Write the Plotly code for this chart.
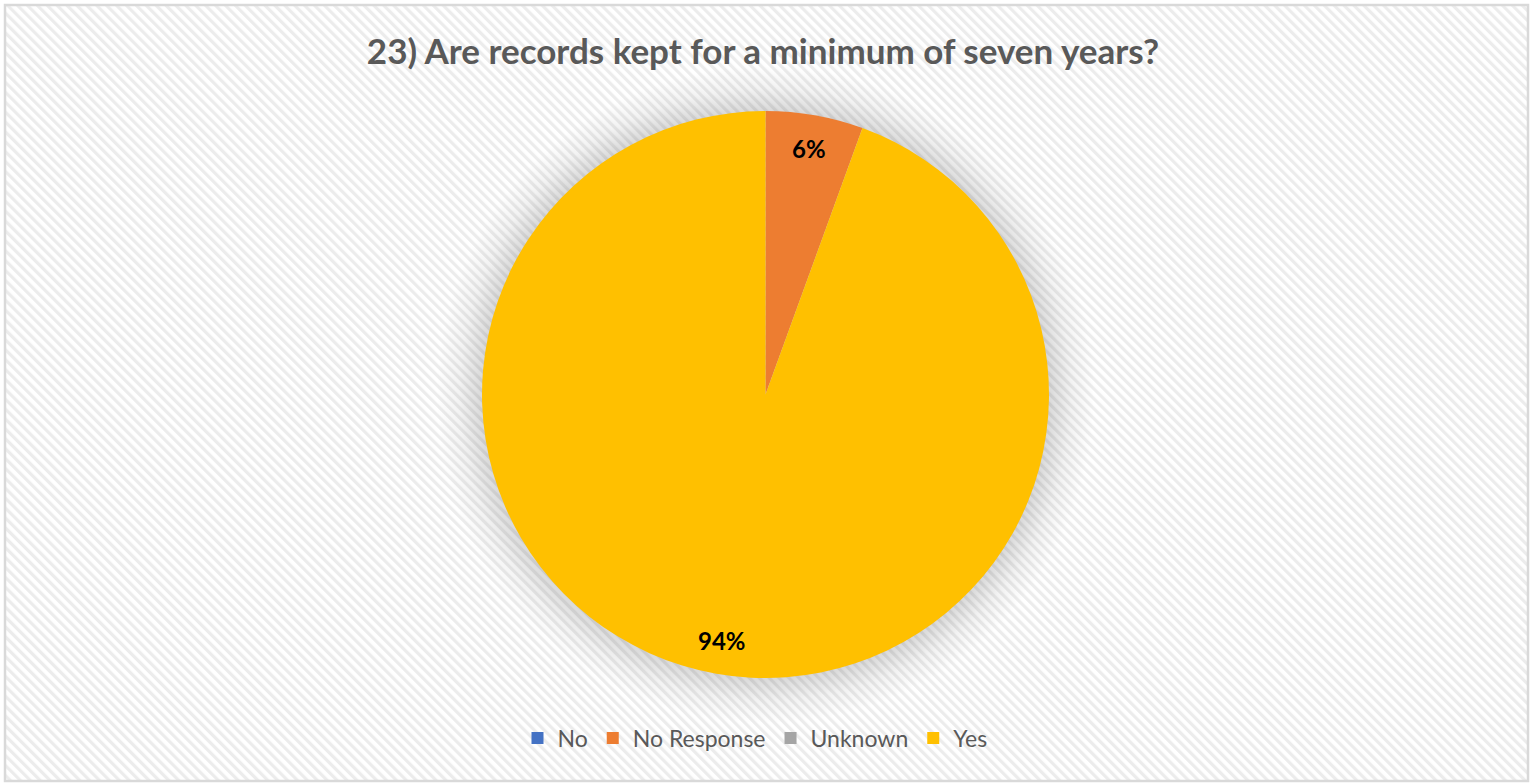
import math
import base64
import plotly.graph_objects as go

# ---- data ----
categories = ["No", "No Response", "Unknown", "Yes"]
counts = [0, 1, 0, 17]
colors = ["#4472C4", "#ED7D31", "#A5A5A5", "#FFC000"]
title_text = "23) Are records kept for a minimum of seven years?"

W, H = 1533, 784
# pie domain (paper)
dom_x = [482 / W, 1049 / W]
dom_y = [1 - 678 / H, 1 - 111 / H]
cx_px = (dom_x[0] + dom_x[1]) / 2 * W
cy_px = (1 - (dom_y[0] + dom_y[1]) / 2) * H
r_px = min((dom_x[1] - dom_x[0]) * W, (dom_y[1] - dom_y[0]) * H) / 2

# ---- background: hatched pattern + border + soft glow behind pie ----
svg = f"""<svg xmlns='http://www.w3.org/2000/svg' width='{W}' height='{H}'>
<defs>
<pattern id='p' width='7' height='7' patternUnits='userSpaceOnUse' patternTransform='rotate(-45)'>
<rect width='7' height='7' fill='#ffffff'/>
<rect width='3.2' height='7' fill='#ececec'/>
</pattern>
<radialGradient id='g' cx='0.5' cy='0.5' r='0.5'>
<stop offset='0.86' stop-color='#000000' stop-opacity='0.15'/>
<stop offset='0.93' stop-color='#000000' stop-opacity='0.05'/>
<stop offset='1' stop-color='#000000' stop-opacity='0'/>
</radialGradient>
</defs>
<rect x='5' y='5' width='{W-10}' height='{H-8}' fill='url(#p)' stroke='#d9d9d9' stroke-width='2.5'/>
<circle cx='{cx_px:.1f}' cy='{cy_px:.1f}' r='{r_px*1.16:.1f}' fill='url(#g)'/>
</svg>"""
src = "data:image/svg+xml;base64," + base64.b64encode(svg.encode()).decode()

fig = go.Figure()
fig.add_trace(go.Pie(
    labels=categories,
    values=counts,
    marker=dict(colors=colors, line=dict(width=0)),
    sort=False,
    direction="clockwise",
    rotation=0,
    textinfo="none",
    hoverinfo="label+percent",
    domain=dict(x=dom_x, y=dom_y),
    showlegend=True,
))

# data labels placed along each slice's mid-angle
total = sum(counts)
acc = 0.0
annotations = []
for cat, v in zip(categories, counts):
    if v > 0:
        mid = (acc + v / 2) / total * 2 * math.pi
        x_px = cx_px + 0.88 * r_px * math.sin(mid)
        y_px = cy_px - 0.88 * r_px * math.cos(mid)
        annotations.append(dict(
            x=x_px / W, y=1 - y_px / H, xref="paper", yref="paper",
            text=f"<b>{round(v / total * 100)}%</b>", showarrow=False,
            font=dict(family="Lato, sans-serif", size=24, color="#000000"),
            xanchor="center", yanchor="middle",
        ))
    acc += v

fig.update_layout(
    width=W, height=H,
    margin=dict(l=0, r=0, t=0, b=0),
    paper_bgcolor="#ffffff",
    title=dict(
        text=f"<b>{title_text}</b>",
        x=763 / W, xanchor="center", y=1 - 52 / H, yanchor="middle",
        font=dict(family="Lato, sans-serif", size=35, color="#595959"),
    ),
    legend=dict(
        orientation="h", x=755 / W, xanchor="center", y=1 - 738 / H, yanchor="middle",
        font=dict(family="Lato, sans-serif", size=23, color="#595959"),
        bgcolor="rgba(0,0,0,0)", itemclick=False, itemdoubleclick=False,
    ),
    annotations=annotations,
    images=[dict(source=src, xref="paper", yref="paper", x=0, y=1,
                 sizex=1, sizey=1, sizing="stretch", xanchor="left", yanchor="top",
                 layer="below")],
)

fig.write_html("out.html")
